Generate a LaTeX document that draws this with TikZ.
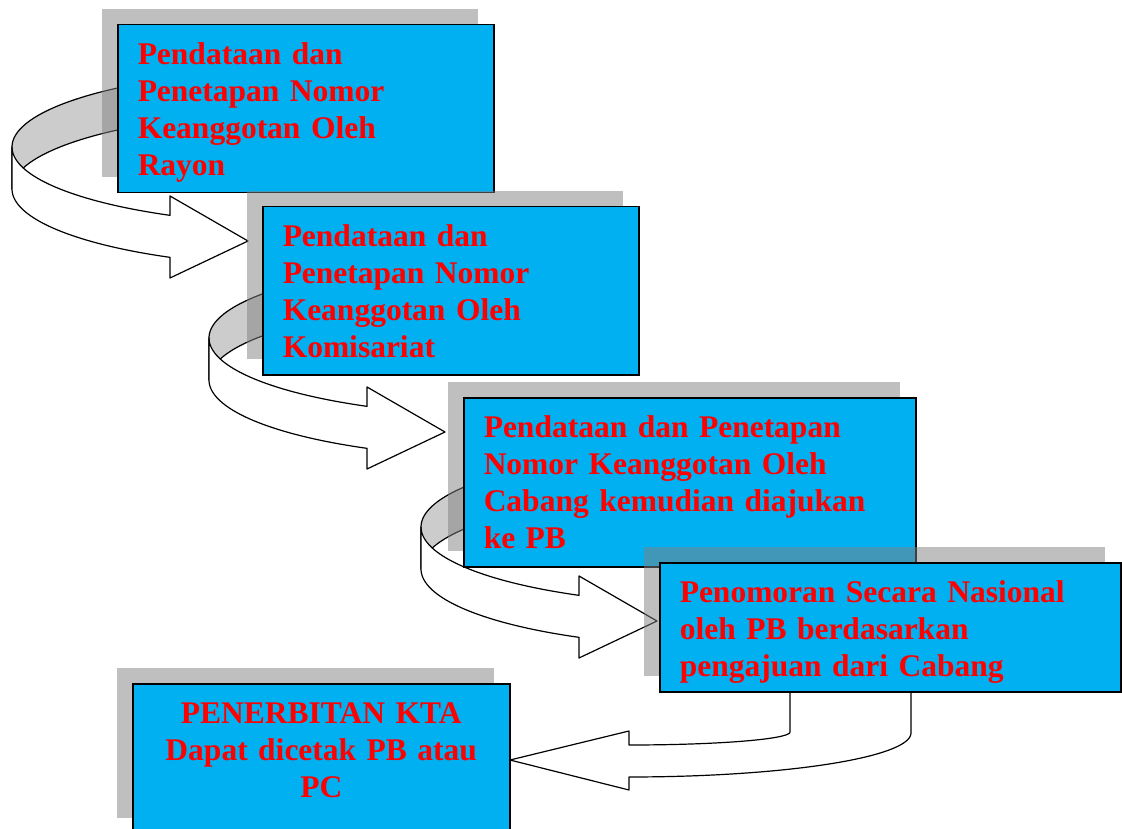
\documentclass[tikz,border=0pt]{standalone}
\usepackage{fontspec}
\setmainfont{Liberation Serif}
\usepackage{tikz}
\usetikzlibrary{shadows}

\definecolor{biru}{HTML}{00B0F0}
\definecolor{merah}{HTML}{FF0000}

% panah lengkung dari sisi kiri kotak ke kotak berikutnya
\newcommand{\panahlengkung}[1]{%
  \begin{scope}[shift={(#1)}]
    % sisi belakang
    \filldraw[sisi, fill=black!20]
      plot[domain=180:235] ({69+305*cos(\x)},{-94+78*sin(\x)})
      -- plot[domain=235:180] ({69+305*cos(\x)},{-52+78*sin(\x)}) -- cycle;
    % sisi depan dan kepala panah
    \filldraw[sisi, fill=white]
      plot[domain=180:118.8] ({69+305*cos(\x)},{-94+78*sin(\x)})
      -- (-78,-45) -- (0,0) -- (-78,37)
      -- plot[domain=118.8:180] ({69+305*cos(\x)},{-52+78*sin(\x)}) -- cycle;
  \end{scope}}

\begin{document}
\begin{tikzpicture}[x=1pt, y=-1pt]
    % gaya kotak dan panah
    \tikzstyle{kotak}=[rectangle, draw, fill=biru, line width=1.5pt, anchor=north west,
        text=merah, font=\bfseries\fontsize{31.5}{37}\selectfont, align=left,
        inner xsep=20pt, inner ysep=10pt, text height=30pt,
        drop shadow={shadow xshift=-16pt, shadow yshift=16pt}]
    \tikzstyle{sisi}=[draw, line width=1.2pt, samples=40, line join=round]

    \path[use as bounding box, clip] (0,0) rectangle (1122,829);

    % ujung panah
    \coordinate (u1) at (248,241);
    \coordinate (u2) at (445,432);
    \coordinate (u3) at (657,621);
    \coordinate (u4) at (510,760);

    % panah
    \panahlengkung{u1}
    \panahlengkung{u2}
    \panahlengkung{u3}
    \begin{scope}[shift={(u4)}]
      \filldraw[sisi, fill=white] (280,-80) -- (280,-28)
        -- plot[domain=0:90] ({119+161*cos(\x)},{-28+13*sin(\x)})
        -- (119,-29) -- (0,0) -- (119,30) -- (119,17)
        -- plot[domain=90:0] ({119+282*cos(\x)},{-27+44*sin(\x)})
        -- (401,-80);
    \end{scope}

    % kotak
    \node[kotak, text width=336pt, text depth=118pt] (p1) at (117,24)
        {Pendataan dan\\ Penetapan Nomor\\ Keanggotan Oleh\\ Rayon};
    \node[kotak, text width=336pt, text depth=118pt] (p2) at (262,206)
        {Pendataan dan\\ Penetapan Nomor\\ Keanggotan Oleh\\ Komisariat};
    \node[kotak, text width=412pt, text depth=119pt] (p3) at (463,397)
        {Pendataan dan Penetapan\\ Nomor Keanggotan Oleh\\ Cabang kemudian diajukan\\ ke PB};
    \node[kotak, text width=421pt, text depth=79pt] (p4) at (659,562)
        {Penomoran Secara Nasional\\ oleh PB berdasarkan\\ pengajuan dari Cabang};
    \node[kotak, align=center, text width=337pt, text depth=100pt] (p5) at (132,683)
        {PENERBITAN KTA\\ Dapat dicetak PB atau\\ PC};
\end{tikzpicture}
\end{document}
